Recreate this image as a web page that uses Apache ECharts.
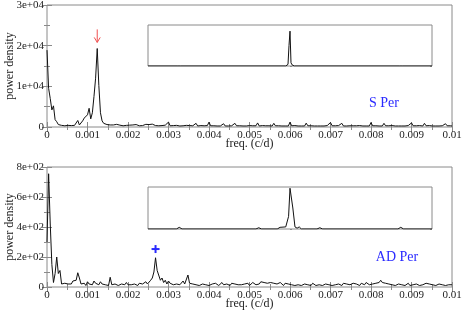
<!DOCTYPE html>
<html><head><meta charset="utf-8">
<script src="https://cdn.jsdelivr.net/npm/echarts@6/dist/echarts.min.js"></script>
<style>html,body{margin:0;padding:0;background:#fff}#c{width:463px;height:316px}</style>
</head><body><div id="c"></div>
<script>
// frequency grid step (c/d) for both periodograms
const FREQ_STEP = 0.00004;
const xTicks = [0, 0.001, 0.002, 0.003, 0.004, 0.005, 0.006, 0.007, 0.008, 0.009, 0.01];

// S Per power density
const sPerPower = [
  18900,9500,7000,4200,5200,1800,1300,600,900,400,
  500,300,600,400,500,350,700,400,600,1600,
  500,900,1500,2200,1800,3000,4600,2000,3500,7500,
  12000,19300,10200,3500,1500,900,1100,600,800,500,
  700,
  500,400,650,350,450,600,300,500,400,350,
  450,300,500,350,600,400,300,450,350,500,
  650,800,600,500,700,400,350,500,300,400,
  350,300,450,250,1200,300,250,350,300,400,
  300,250,350,300,250,400,300,350,250,300,
  300,900,250,300,350,250,300,250,350,1200,
  300,250,300,350,250,300,250,300,800,250,
  300,250,350,300,250,900,300,250,300,350,
  250,300,250,300,350,250,300,250,300,1000,
  250,300,350,250,300,250,300,300,250,900,
  300,250,300,350,250,300,250,300,250,1200,
  300,250,350,300,250,300,250,300,250,950,
  300,250,300,350,250,300,250,300,250,300,
  250,300,350,250,1100,300,250,300,250,350,
  300,900,250,300,250,350,300,250,300,250,
  300,250,350,300,250,300,250,300,250,1100,
  300,250,300,350,250,300,250,900,300,250,
  300,250,350,300,250,300,250,300,250,300,
  250,300,350,250,1000,300,250,300,250,350,
  300,250,900,300,250,350,300,250,300,250,
  300,250,350,300,250,800,300,250,300,250
];

// AD Per power density
const adPerPower = [
  300,755,420,150,30,90,200,90,110,20,
  15,25,15,20,10,20,40,50,45,95,
  60,20,15,25,10,35,20,25,15,40,
  25,30,15,35,20,30,15,20,10,65,
  15,10,20,15,10,15,20,10,15,30,
  15,10,15,10,20,15,10,25,15,20,
  25,35,20,30,45,60,100,195,110,100,
  45,60,30,45,20,40,25,30,15,25,
  20,30,15,20,40,20,30,80,25,15,
  20,
  10,15,25,10,15,20,10,15,25,10,
  15,20,10,25,15,10,20,30,15,10,
  20,15,10,25,15,20,10,15,25,15,
  10,20,15,25,10,15,30,20,15,25,
  20,35,25,30,40,25,35,30,20,25,
  35,20,15,30,20,10,25,15,20,10,
  15,25,10,20,15,25,10,15,20,10,
  15,20,10,25,15,10,20,15,25,10,
  15,20,10,15,25,10,20,15,10,20,
  15,10,25,15,20,10,15,20,25,15,
  20,15,10,25,20,15,30,20,15,25,
  20,15,25,20,30,45,30,20,25,15,
  20,10,15,25,10,15,20,10,15,20,
  10,15,25,10,20,15,10,20,15,10,
  20,15,10,25,15,20,10,15,25,10,
  15,20,10,15,25,10,20,15,10,15
];

// insets (spectral window, relative units)
const insetTopX = [-1,-0.79,-0.78,-0.77,-0.03,-0.014,-0.007,0,0.007,0.014,0.03,0.77,0.78,0.79,1];
const insetTopY = [0,0,0.02,0,0,0.04,0.5,0.85,0.08,0.03,0,0,0.02,0,0];
const insetBotX = [-1,-0.8,-0.78,-0.76,-0.24,-0.22,-0.2,-0.09,-0.07,-0.03,-0.01,0,0.02,0.035,0.05,0.065,0.08,0.19,0.21,0.23,0.76,0.78,0.8,1];
const insetBotY = [0,0,0.04,0,0,0.03,0,0,0.04,0.05,0.3,0.97,0.5,0.05,0.02,0.05,0,0,0.03,0,0,0.04,0,0];

const sPerPeak = [0.00124, 19300];
const adPerPeak = [0.00268, 195];

function pairs(vals){ return vals.map((v,i)=>[+(i*FREQ_STEP).toFixed(6), v]); }
function zip(xs, ys){ return xs.map((x,i)=>[x, ys[i]]); }
function sci(v){
  if (v === 0) return '0';
  const e = Math.floor(Math.log10(v) + 1e-9);
  const m = Math.round(v / Math.pow(10, e));
  return m + 'e+' + String(e).padStart(2, '0');
}

const FONT = 'Liberation Serif';
const GRAY = '#8a8a8a';
const lab = {color:'#222', fontFamily:FONT, fontSize:11};
const tick = {show:true, inside:true, length:5, lineStyle:{color:GRAY}};
const minor = {show:true, splitNumber:2, length:3, lineStyle:{color:GRAY}};

function mainX(grid){
  return [{
    type:'value', gridIndex:grid, min:0, max:0.01, interval:0.001, position:'bottom',
    axisLine:{show:false}, axisTick:tick, minorTick:minor, splitLine:{show:false},
    axisLabel:{...lab, margin:3, formatter:v=>String(+v.toFixed(3))},
    name:'freq. (c/d)', nameLocation:'middle', nameGap:11, nameMoveOverlap:false,
    nameTextStyle:{color:'#222', fontFamily:FONT, fontSize:12}
  },{
    type:'value', gridIndex:grid, min:0, max:0.01, interval:0.001, position:'top',
    axisLine:{show:false}, axisTick:tick, minorTick:minor, splitLine:{show:false},
    axisLabel:{show:false}
  }];
}
function mainY(grid, max, interval){
  return [{
    type:'value', gridIndex:grid, min:0, max:max, interval:interval, position:'left',
    axisLine:{show:false}, axisTick:tick, minorTick:minor, splitLine:{show:false},
    axisLabel:{...lab, margin:3, formatter:sci},
    name:'power density', nameLocation:'middle', nameGap:31, nameRotate:90, nameMoveOverlap:false,
    nameTextStyle:{color:'#222', fontFamily:FONT, fontSize:12}
  },{
    type:'value', gridIndex:grid, min:0, max:max, interval:interval, position:'right',
    axisLine:{show:false}, axisTick:tick, minorTick:minor, splitLine:{show:false},
    axisLabel:{show:false}
  }];
}
function insetX(grid){
  return {type:'value', gridIndex:grid, min:-1, max:1, axisLine:{show:false},
    axisTick:{show:false}, axisLabel:{show:false}, splitLine:{show:false}};
}
function insetY(grid){
  const t = {show:true, inside:true, length:2, lineStyle:{color:GRAY}};
  return [
    {type:'value', gridIndex:grid, min:0, max:1, interval:0.125, position:'left', axisLine:{show:false},
     axisTick:t, axisLabel:{show:false}, splitLine:{show:false}},
    {type:'value', gridIndex:grid, min:0, max:1, interval:0.125, position:'right', axisLine:{show:false},
     axisTick:t, axisLabel:{show:false}, splitLine:{show:false}}
  ];
}

const chart = echarts.init(document.getElementById('c'), null, {renderer:'canvas'});
const lineS = {type:'line', showSymbol:false, symbol:'none', animation:false,
  lineStyle:{color:'#111', width:1}, z:3};
const gbase = {show:true, borderColor:GRAY, borderWidth:1, outerBoundsMode:'none', containLabel:false};

chart.setOption({
  animation:false,
  backgroundColor:'#fff',
  grid:[
    {...gbase, left:47, top:5, width:405, height:122},
    {...gbase, left:47, top:167, width:405, height:120},
    {...gbase, left:148, top:25, width:284, height:41, backgroundColor:'#fff', z:4},
    {...gbase, left:148, top:187, width:284, height:42, backgroundColor:'#fff', z:4}
  ],
  xAxis:[...mainX(0), ...mainX(1), insetX(2), insetX(3)],
  yAxis:[...mainY(0, 30000, 10000), ...mainY(1, 800, 200), ...insetY(2), ...insetY(3)],
  series:[
    {...lineS, xAxisIndex:0, yAxisIndex:0, data:pairs(sPerPower)},
    {...lineS, xAxisIndex:2, yAxisIndex:2, data:pairs(adPerPower)},
    {...lineS, xAxisIndex:4, yAxisIndex:4, data:zip(insetTopX, insetTopY), z:5},
    {...lineS, xAxisIndex:5, yAxisIndex:6, data:zip(insetBotX, insetBotY), z:5}
  ]
});

// annotations
const a = chart.convertToPixel({xAxisIndex:0, yAxisIndex:0}, [sPerPeak[0], sPerPeak[1] + 4700]);
const a2 = chart.convertToPixel({xAxisIndex:0, yAxisIndex:0}, [sPerPeak[0], sPerPeak[1] + 1500]);
const p = chart.convertToPixel({xAxisIndex:2, yAxisIndex:2}, [adPerPeak[0], adPerPeak[1] + 58]);
chart.setOption({
  graphic:[
    {type:'line', shape:{x1:a[0], y1:a[1], x2:a2[0], y2:a2[1]}, style:{stroke:'#f05050', lineWidth:1}, z:10},
    {type:'polyline', shape:{points:[[a2[0]-3, a2[1]-5],[a2[0], a2[1]],[a2[0]+3, a2[1]-5]]}, style:{stroke:'#f05050', lineWidth:1, fill:null}, z:10},
    {type:'line', shape:{x1:p[0]-4, y1:p[1], x2:p[0]+4, y2:p[1]}, style:{stroke:'#2a2aff', lineWidth:2}, z:10},
    {type:'line', shape:{x1:p[0], y1:p[1]-4, x2:p[0], y2:p[1]+4}, style:{stroke:'#2a2aff', lineWidth:2}, z:10},
    {type:'text', x:384, y:103, style:{text:'S Per', fill:'#2a2aff', font:'14px "Liberation Serif"', align:'center', verticalAlign:'middle'}, z:10},
    {type:'text', x:397, y:257, style:{text:'AD Per', fill:'#2a2aff', font:'14px "Liberation Serif"', align:'center', verticalAlign:'middle'}, z:10}
  ]
});
</script></body></html>
